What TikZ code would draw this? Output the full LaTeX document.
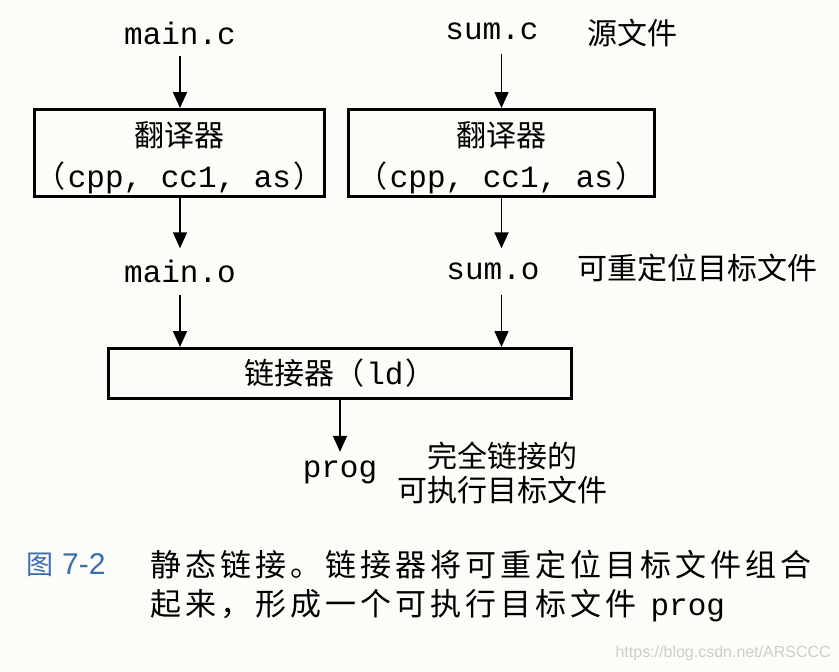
\documentclass[tikz,border=0pt]{standalone}
\usepackage{fontspec}
\setmonofont{Liberation Mono}
\newfontfamily\cjk{Noto Sans CJK SC}
\newfontfamily\wmfont{Liberation Sans}
\usetikzlibrary{arrows.meta}
\definecolor{bg}{RGB}{252,252,248}
\definecolor{capblue}{RGB}{58,108,176}
\definecolor{wmgray}{RGB}{205,205,205}
\newcommand{\zhtxt}[1]{{\cjk\fontsize{30}{41.5}\selectfont #1}}
\begin{document}
\begin{tikzpicture}[x=1pt,y=-1pt,
  tt/.style={font=\fontsize{31}{36}\selectfont\ttfamily, inner sep=0pt},
  lbl/.style={tt, minimum height=46pt},
  cjklbl/.style={font=\fontsize{30}{34}\selectfont\cjk, inner sep=0pt, align=center},
  box/.style={draw, line width=3pt, inner sep=0pt, align=center,
              font=\fontsize{31}{41.5}\selectfont\ttfamily},
  arr/.style={line width=1.6pt, -{Triangle[width=14pt,length=16pt]}}]

\fill[bg] (0,0) rectangle (839,672);
\useasboundingbox (0,0) rectangle (839,672);

% sources
\node[lbl] (mainc) at (180,33) {main.c};
\node[lbl] (sumc) at (492,31) {sum.c};
\node[cjklbl] (src) at (632,33) {源文件};

% translators
\node[box, minimum width=290pt, minimum height=87pt] (trans1) at (179.5,153)
  {\rule{0pt}{34pt}\zhtxt{翻译器}\\\zhtxt{（}\hspace{2pt}cpp, cc1, as\hspace{2pt}\zhtxt{）}};
\node[box, minimum width=306pt, minimum height=87pt] (trans2) at (501.5,153)
  {\rule{0pt}{34pt}\zhtxt{翻译器}\\\zhtxt{（}\hspace{2pt}cpp, cc1, as\hspace{2pt}\zhtxt{）}};

% object files
\node[lbl] (maino) at (180,271.5) {main.o};
\node[lbl] (sumo) at (493,271.5) {sum.o};
\node[cjklbl] (reloc) at (697,268) {可重定位目标文件};

% linker
\node[box, minimum width=463pt, minimum height=50pt] (linker) at (340,373.5)
  {\zhtxt{链接器（}\hspace{2pt}ld\hspace{2pt}\zhtxt{）}};

% output
\node[tt, minimum height=40pt] (prog) at (340,472) {prog};
\node[cjklbl] (exe) at (502,473) {完全链接的\\可执行目标文件};

% arrows
\draw[arr] (mainc.south) -- (mainc.south |- trans1.north);
\draw[arr] (sumc.south -| trans2) -- (trans2.north);
\draw[arr] (trans1.south -| maino) -- (maino.north);
\draw[arr] (trans2.south) -- (trans2.south |- sumo.north);
\draw[arr] (maino.south) -- (maino.south |- linker.north);
\draw[arr] (sumo.south -| trans2) -- (linker.north -| trans2);
\draw[arr] (linker.south -| prog) -- (prog.north);

% caption
\node[anchor=west, inner sep=0pt, text=capblue] (fig) at (26,565)
  {{\cjk\fontsize{27}{30}\selectfont 图}\hspace{9pt}{\wmfont\fontsize{30}{30}\selectfont 7-2}};
\node[anchor=west, inner sep=0pt, font=\fontsize{31}{36}\selectfont] (cap1) at (150,565)
  {{\cjk\addfontfeature{LetterSpace=13}静态链接。链接器将可重定位目标文件组合}};
\node[anchor=west, inner sep=0pt, font=\fontsize{31}{36}\selectfont] (cap2) at (150,606)
  {{\cjk\addfontfeature{LetterSpace=13}起来，形成一个可执行目标文件}\hspace{14pt}{\ttfamily prog}};

% watermark
\node[anchor=east, inner sep=0pt, text=wmgray, font=\wmfont\fontsize{16}{20}\selectfont] (wm) at (831,653)
  {https://blog.csdn.net/ARSCCC};
\end{tikzpicture}
\end{document}
